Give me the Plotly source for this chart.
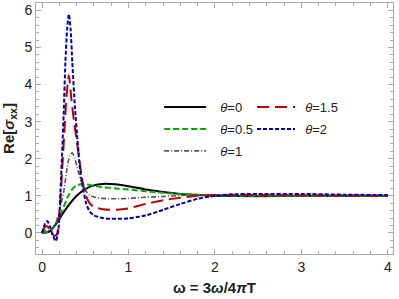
import plotly.graph_objects as go

x0 = [0, 0.05, 0.1, 0.15, 0.2, 0.3, 0.4, 0.5, 0.6, 0.7, 0.85, 1.0, 1.2, 1.4, 1.6, 1.8, 2.0, 2.5, 3, 3.5, 4]
y0 = [0, 0.01, 0.06, 0.2, 0.38, 0.72, 1.0, 1.18, 1.28, 1.32, 1.31, 1.26, 1.17, 1.1, 1.05, 1.02, 1.0, 0.99, 1.0, 1.0, 1.0]

x05 = [0, 0.05, 0.1, 0.15, 0.2, 0.25, 0.3, 0.35, 0.4, 0.45, 0.5, 0.6, 0.7, 0.85, 1.0, 1.2, 1.4, 1.6, 1.8, 2.0, 2.5, 3, 4]
y05 = [0, 0.02, 0.08, 0.22, 0.42, 0.7, 0.98, 1.18, 1.28, 1.31, 1.31, 1.27, 1.23, 1.2, 1.17, 1.12, 1.08, 1.05, 1.03, 1.01, 1.0, 1.0, 1.0]

x1 = [0, 0.05, 0.1, 0.15, 0.2, 0.25, 0.29, 0.32, 0.35, 0.38, 0.42, 0.46, 0.5, 0.55, 0.6, 0.7, 0.8, 0.9, 1.0, 1.2, 1.4, 1.6, 1.8, 2.0, 2.5, 3, 4]
y1 = [0, 0.08, 0.06, 0.2, 0.6, 1.1, 1.75, 2.08, 2.16, 2.0, 1.65, 1.35, 1.15, 1.02, 0.97, 0.93, 0.92, 0.92, 0.93, 0.96, 0.98, 1.01, 1.02, 1.02, 1.01, 1.0, 1.0]

x15 = [0, 0.03, 0.06, 0.1, 0.14, 0.17, 0.2, 0.23, 0.26, 0.28, 0.31, 0.34, 0.37, 0.4, 0.43, 0.46, 0.5, 0.55, 0.6, 0.7, 0.8, 0.9, 1.0, 1.2, 1.4, 1.6, 1.8, 2.0, 2.5, 3, 4]
y15 = [0, 0.15, 0.18, 0.05, -0.08, -0.05, 0.5, 1.6, 2.8, 3.6, 4.25, 3.6, 3.0, 2.5, 2.0, 1.5, 1.05, 0.8, 0.7, 0.64, 0.62, 0.63, 0.66, 0.78, 0.88, 0.95, 1.0, 1.02, 1.02, 1.01, 1.0]

x2 = [0, 0.03, 0.06, 0.09, 0.12, 0.16, 0.19, 0.22, 0.25, 0.27, 0.29, 0.31, 0.33, 0.35, 0.38, 0.41, 0.44, 0.47, 0.51, 0.55, 0.6, 0.7, 0.8, 0.9, 1.0, 1.2, 1.4, 1.6, 1.8, 2.0, 2.2, 2.5, 3, 3.5, 4]
y2 = [0, 0.22, 0.32, 0.18, -0.05, -0.22, 0.1, 1.5, 3.2, 4.6, 5.5, 5.9, 5.5, 4.6, 3.4, 2.5, 1.7, 1.25, 0.8, 0.58, 0.47, 0.4, 0.38, 0.38, 0.39, 0.47, 0.62, 0.78, 0.92, 1.0, 1.04, 1.05, 1.05, 1.03, 1.02]

sp1 = "\u2002\u2009"
sp2 = "\u2009\u2009"
series = [
    (sp1 + "<i>θ</i>=0", x0, y0, "#000000", "solid", 2, "legend"),
    (sp1 + "<i>θ</i>=0.5", x05, y05, "#00aa00", "6px,3px", 2, "legend"),
    (sp1 + "<i>θ</i>=1", x1, y1, "#555555", "5px,2px,1px,2px", 1.6, "legend"),
    (sp2 + "<i>θ</i>=1.5", x15, y15, "#bb0000", "12px,6px", 2, "legend2"),
    (sp2 + "<i>θ</i>=2", x2, y2, "#0000aa", "4px,2px", 2, "legend2"),
]

fig = go.Figure()
for i, (name, xs, ys, col, dash, w, lg) in enumerate(series):
    fig.add_trace(go.Scatter(x=xs, y=ys, mode="lines", name=name, legendgroup=f"g{i}",
                             line=dict(color=col, dash=dash, width=w, shape="spline", smoothing=0.6),
                             legend=lg))

font_family = "Liberation Sans, Arial, sans-serif"
axis_common = dict(showgrid=False, zeroline=False, showline=True, linecolor="#aaaaaa",
                   linewidth=1, mirror="ticks", ticks="inside", ticklen=5, tickcolor="#aaaaaa",
                   tickfont=dict(size=14, color="#222222", family=font_family))
fig.update_layout(
    width=399, height=299,
    margin=dict(l=36, r=6, t=3, b=45),
    plot_bgcolor="white", paper_bgcolor="white",
    font=dict(family=font_family),
    xaxis=dict(range=[-0.07, 4.06], tickvals=[0, 1, 2, 3, 4],
               minor=dict(dtick=0.2, ticks="inside", ticklen=3, tickcolor="#aaaaaa"),
               title=dict(text="<b>ω = 3<i>ω</i>/4<i>π</i>T</b>", font=dict(size=15, color="#222222"), standoff=8),
               **axis_common),
    yaxis=dict(range=[-0.57, 6.2], tickvals=[0, 1, 2, 3, 4, 5, 6],
               minor=dict(dtick=0.2, ticks="inside", ticklen=3, tickcolor="#aaaaaa"),
               title=dict(text="<b>Re[<i>σ</i><sub>xx</sub>]</b>", font=dict(size=15, color="#222222"), standoff=6),
               **axis_common),
    legend=dict(x=0.345, y=0.645, xanchor="left", yanchor="top", bgcolor="rgba(0,0,0,0)",
                itemwidth=42, font=dict(size=13, color="#222222"),
                traceorder="grouped", tracegroupgap=2),
    legend2=dict(x=0.605, y=0.645, xanchor="left", yanchor="top", bgcolor="rgba(0,0,0,0)",
                 itemwidth=38, font=dict(size=13, color="#222222"),
                 traceorder="grouped", tracegroupgap=2),
)
fig.write_html("out.html", config={"displayModeBar": False},
               post_script="document.body.style.margin='0';document.body.style.padding='0';")
